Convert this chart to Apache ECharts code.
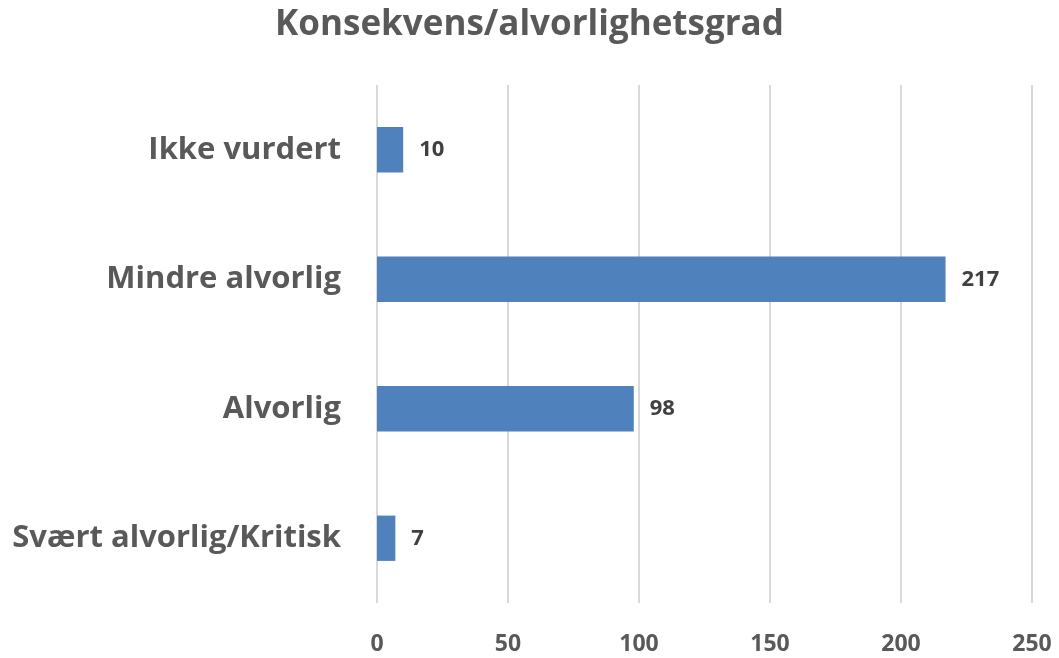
<!DOCTYPE html>
<html lang="no" style="height: 100%">
  <head>
    <meta charset="utf-8" />
  </head>
  <body style="height: 100%; margin: 0; background: #fff">
    <div id="container" style="width: 1059px; height: 658px"></div>

    <script src="https://cdn.jsdelivr.net/npm/echarts@6/dist/echarts.min.js"></script>
    <script>
      var categories = ["Svært alvorlig/Kritisk", "Alvorlig", "Mindre alvorlig", "Ikke vurdert"];
      var counts = [7, 98, 217, 10];
      var xTicks = [0, 50, 100, 150, 200, 250];

      var fontFamily = "'Open Sans', sans-serif";
      var chart = echarts.init(document.getElementById("container"), null, { renderer: "canvas" });

      var option = {
        title: {
          text: "Konsekvens/alvorlighetsgrad",
          left: "center",
          top: 3,
          textStyle: { color: "#595959", fontSize: 35, fontWeight: "bold", fontFamily: fontFamily },
        },
        grid: { left: 377, right: 27, top: 85, bottom: 55, containLabel: false },
        xAxis: {
          type: "value",
          min: xTicks[0],
          max: xTicks[xTicks.length - 1],
          interval: 50,
          axisLine: { show: false },
          axisTick: { show: false },
          splitLine: { show: true, lineStyle: { color: "#d9d9d9", width: 2 } },
          axisLabel: {
            color: "#595959",
            fontSize: 23,
            fontWeight: "bold",
            fontFamily: fontFamily,
            margin: 30,
          },
        },
        yAxis: {
          type: "category",
          data: categories,
          axisLine: { show: false },
          axisTick: { show: false },
          axisLabel: {
            color: "#595959",
            fontSize: 31,
            fontWeight: "bold",
            fontFamily: fontFamily,
            margin: 36,
            padding: [4, 0, 0, 0],
          },
        },
        series: [
          {
            type: "bar",
            data: counts,
            barWidth: "35%",
            itemStyle: { color: "#4f81bd" },
            label: {
              show: true,
              position: "right",
              distance: 16,
              color: "#404040",
              fontSize: 22,
              fontWeight: "bold",
              fontFamily: fontFamily,
              padding: [4, 0, 0, 0],
            },
          },
        ],
      };

      chart.setOption(option);
    </script>
  </body>
</html>
